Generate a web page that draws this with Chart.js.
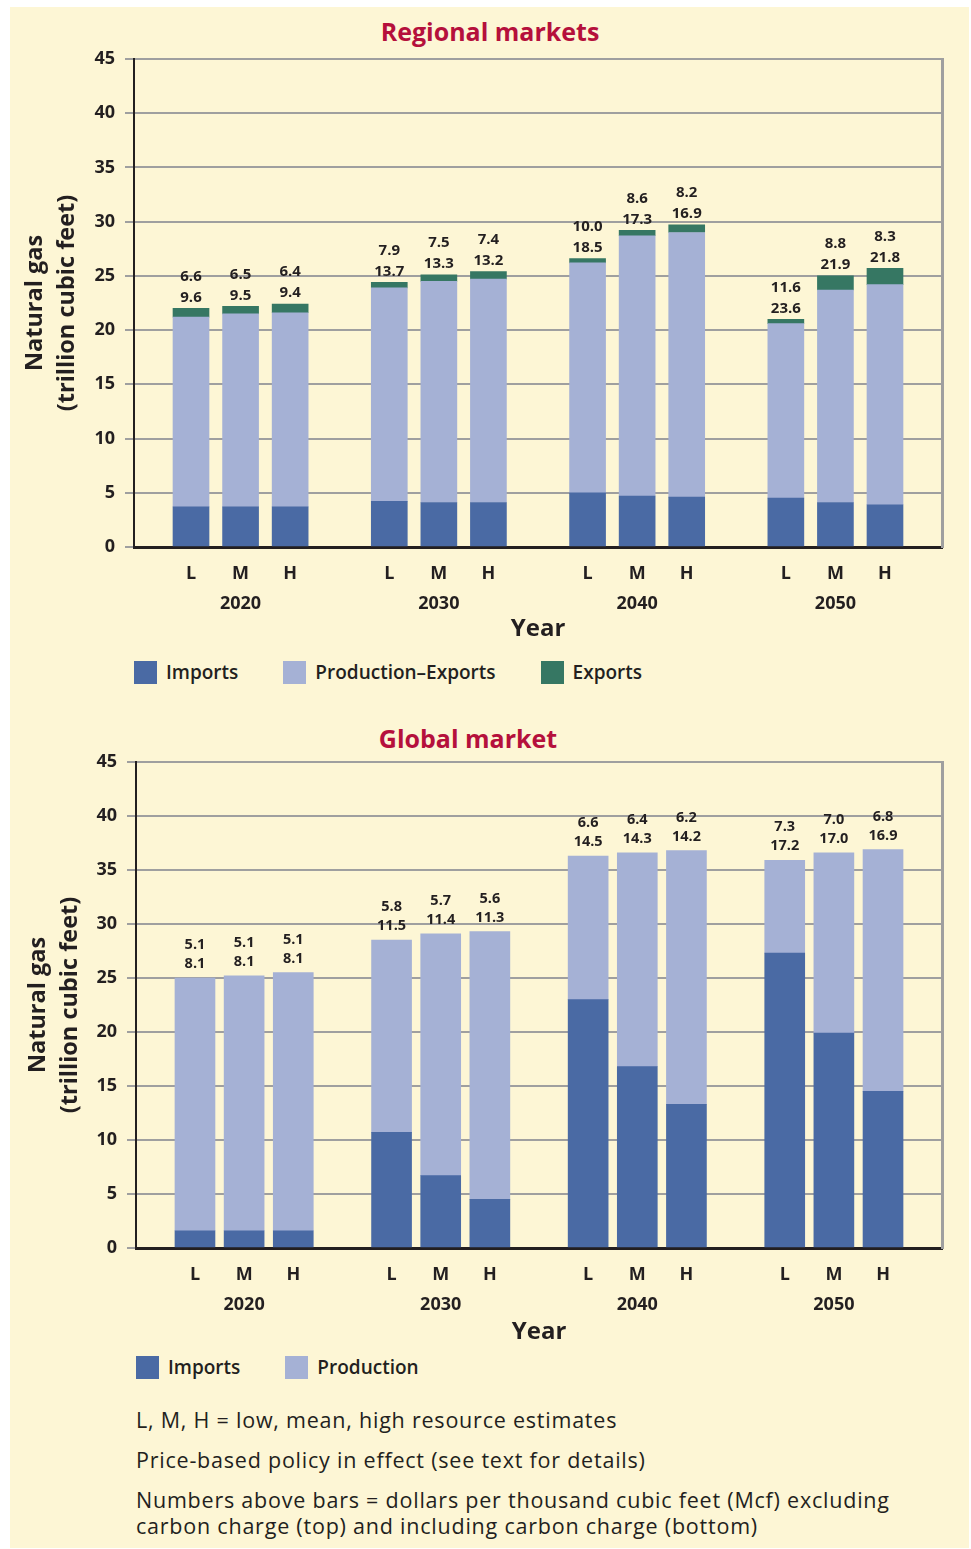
<!DOCTYPE html>
<html lang="en">
<head>
<meta charset="UTF-8">
<title>Natural gas: regional and global markets</title>
<script src="https://cdn.jsdelivr.net/npm/chart.js"></script>
<style>
  body { margin: 0; background: #fff; font-family: "Open Sans", sans-serif; color: #231f20; }
  #panel { position: absolute; left: 10px; top: 7px; width: 959px; height: 1541px; background: #fdf6d5; }
  canvas { position: absolute; left: 0; }
  .title { position: absolute; font-weight: 700; font-size: 25px; color: #b5103c; transform: translate(-50%, -50%); white-space: nowrap; }
  .legend { position: absolute; display: flex; gap: 45px; font-weight: 600; font-size: 19px; line-height: 23px; }
  .legend span { display: flex; align-items: center; }
  .legend i { width: 23px; height: 23px; margin-right: 9px; display: inline-block; }
  .notes { position: absolute; left: 126px; top: 1400px; font-size: 21.5px; letter-spacing: 0.78px; line-height: 26px; }
  .notes p { margin: 0 0 14px 0; }
</style>
</head>
<body>
<div id="panel">
  <div class="title" style="left:480px; top:24px;">Regional markets</div>
  <canvas id="regional" width="959" height="640" style="top:0;"></canvas>
  <div class="legend" style="left:124px; top:654px;">
    <span><i style="background:#4a6aa4"></i>Imports</span>
    <span><i style="background:#a5b1d5"></i>Production–Exports</span>
    <span><i style="background:#367763"></i>Exports</span>
  </div>

  <div class="title" style="left:458px; top:731px;">Global market</div>
  <canvas id="global" width="959" height="648" style="top:693px;"></canvas>
  <div class="legend" style="left:126px; top:1349px;">
    <span><i style="background:#4a6aa4"></i>Imports</span>
    <span><i style="background:#a5b1d5"></i>Production</span>
  </div>

  <div class="notes">
    <p>L, M, H = low, mean, high resource estimates</p>
    <p>Price-based policy in effect (see text for details)</p>
    <p>Numbers above bars = dollars per thousand cubic feet (Mcf) excluding<br>carbon charge (top) and including carbon charge (bottom)</p>
  </div>
</div>

<script>
const years = ['2020', '2030', '2040', '2050'];
const cases = ['L', 'M', 'H'];

// Regional markets, trillion cubic feet (L, M, H for each year)
const regionalImports = [3.7, 3.7, 3.7, 4.2, 4.1, 4.1, 5.0, 4.7, 4.6, 4.5, 4.1, 3.9];
const regionalProdLessExports = [17.5, 17.8, 17.9, 19.7, 20.4, 20.6, 21.2, 24.0, 24.4, 16.1, 19.6, 20.3];
const regionalExports = [0.8, 0.7, 0.8, 0.5, 0.6, 0.7, 0.4, 0.5, 0.7, 0.4, 1.3, 1.5];
// $/Mcf excluding (top) and including (bottom) carbon charge
const regionalPriceExcl = [6.6, 6.5, 6.4, 7.9, 7.5, 7.4, 10.0, 8.6, 8.2, 11.6, 8.8, 8.3];
const regionalPriceIncl = [9.6, 9.5, 9.4, 13.7, 13.3, 13.2, 18.5, 17.3, 16.9, 23.6, 21.9, 21.8];

// Global market
const globalImports = [1.6, 1.6, 1.6, 10.7, 6.7, 4.5, 23.0, 16.8, 13.3, 27.3, 19.9, 14.5];
const globalProduction = [23.4, 23.6, 23.9, 17.8, 22.4, 24.8, 13.3, 19.8, 23.5, 8.6, 16.7, 22.4];
const globalPriceExcl = [5.1, 5.1, 5.1, 5.8, 5.7, 5.6, 6.6, 6.4, 6.2, 7.3, 7.0, 6.8];
const globalPriceIncl = [8.1, 8.1, 8.1, 11.5, 11.4, 11.3, 14.5, 14.3, 14.2, 17.2, 17.0, 16.9];

const ink = '#231f20';
const gridGray = '#9f9f9f';
const colImports = '#4a6aa4';
const colProduction = '#a5b1d5';
const colExports = '#367763';

// each year gets 3 bar slots plus one empty slot as gap
const slotOf = i => Math.floor(i / 3) * 4 + (i % 3);
const barSlots = regionalImports.map((_, i) => slotOf(i));
const tickLabel = s => {
  const g = Math.floor(s / 4), k = s % 4;
  if (k === 3) return '';
  return k === 1 ? [cases[k], years[g]] : [cases[k], ''];
};
const toPoints = vals => vals.map((v, i) => ({ x: barSlots[i], y: v }));

function priceLabels(top, bottom, size, gap, lineGap) {
  return {
    id: 'priceLabels',
    afterDatasetsDraw(chart) {
      const ctx = chart.ctx;
      const meta = chart.getDatasetMeta(chart.data.datasets.length - 1);
      ctx.save();
      ctx.font = `bold ${size}px "Open Sans"`;
      ctx.fillStyle = ink;
      ctx.textAlign = 'center';
      ctx.textBaseline = 'middle';
      meta.data.forEach((bar, i) => {
        ctx.fillText(top[i].toFixed(1), bar.x, bar.y - gap - lineGap);
        ctx.fillText(bottom[i].toFixed(1), bar.x, bar.y - gap);
      });
      ctx.restore();
    }
  };
}

function makeChart(id, datasets, o) {
  return new Chart(document.getElementById(id), {
    type: 'bar',
    data: { datasets: datasets },
    options: {
      responsive: false,
      animation: false,
      layout: { padding: { top: o.padTop, right: 0, bottom: 0, left: 0 } },
      datasets: { bar: { barThickness: o.barWidth } },
      plugins: { legend: { display: false }, tooltip: { enabled: false } },
      scales: {
        x: {
          type: 'linear', bounds: 'data', min: o.xMin, max: o.xMax, offset: false, stacked: true,
          afterBuildTicks: s => {
            s.ticks = [];
            for (let v = 0; v <= 14; v++) if (v % 4 !== 3) s.ticks.push({ value: v });
          },
          ticks: {
            autoSkip: false, maxRotation: 0, padding: 12, color: ink,
            font: { family: 'Open Sans', size: 18, weight: 'bold', lineHeight: 1.67 },
            callback: v => tickLabel(v)
          },
          grid: { display: false, drawTicks: false, offset: false },
          border: { color: ink, width: 3 },
          title: {
            display: true, text: 'Year', color: ink,
            font: { family: 'Open Sans', size: 24, weight: 'bold', lineHeight: 1.2 },
            padding: { top: 0, bottom: o.yearPad }
          },
          afterFit: s => { s.height = 100; }
        },
        y: {
          stacked: true, min: 0, max: 45,
          ticks: { stepSize: 5, padding: 10, color: ink, font: { family: 'Open Sans', size: 18, weight: 'bold' } },
          grid: { color: gridGray, lineWidth: 2, tickLength: 9 },
          border: { color: ink, width: 2 },
          title: {
            display: true, text: ['Natural gas', '(trillion cubic feet)'], color: ink,
            font: { family: 'Open Sans', size: 23.5, weight: 'bold', lineHeight: 1.36 },
            padding: { top: o.yTitlePad, bottom: 0 }
          },
          afterFit: s => { s.width = o.yWidth; }
        },
        y2: {
          position: 'right', min: 0, max: 45,
          ticks: { display: false },
          grid: { drawOnChartArea: false, drawTicks: false },
          border: { color: gridGray, width: 3 },
          afterFit: s => { s.width = 27; }
        }
      }
    },
    plugins: [priceLabels(o.priceTop, o.priceBottom, o.labelSize, o.labelGap, o.labelLineGap)]
  });
}

makeChart('regional', [
  { label: 'Imports', data: toPoints(regionalImports), backgroundColor: colImports },
  { label: 'Production–Exports', data: toPoints(regionalProdLessExports), backgroundColor: colProduction },
  { label: 'Exports', data: toPoints(regionalExports), backgroundColor: colExports }
], {
  padTop: 52, barWidth: 36, xMin: -1.15, xMax: 15.15, yearPad: 3.6, yTitlePad: 9, yWidth: 124,
  priceTop: regionalPriceExcl, priceBottom: regionalPriceIncl, labelSize: 15, labelGap: 11, labelLineGap: 21
});

makeChart('global', [
  { label: 'Imports', data: toPoints(globalImports), backgroundColor: colImports },
  { label: 'Production', data: toPoints(globalProduction), backgroundColor: colProduction }
], {
  padTop: 62, barWidth: 40, xMin: -1.2, xMax: 15.2, yearPad: 1.6, yTitlePad: 12, yWidth: 126,
  priceTop: globalPriceExcl, priceBottom: globalPriceIncl, labelSize: 14.5, labelGap: 14, labelLineGap: 19
});
</script>
</body>
</html>
